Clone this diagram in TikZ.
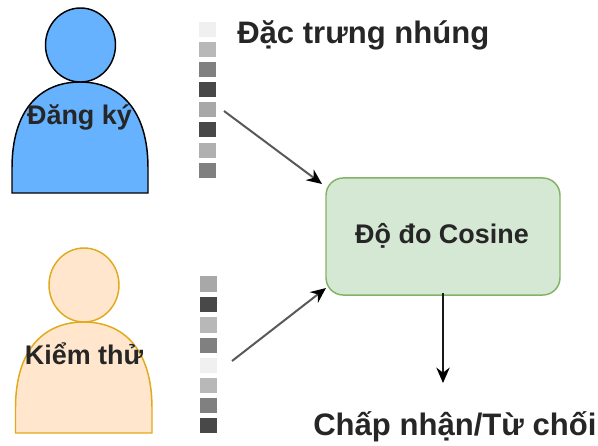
\documentclass[tikz,border=0pt]{standalone}
\usepackage{fontspec}
\setmainfont{Liberation Sans}
\usetikzlibrary{arrows.meta}
\definecolor{blueF}{HTML}{66B2FF}
\definecolor{orangeF}{HTML}{FFE6CC}
\definecolor{orangeD}{HTML}{E1A91C}
\definecolor{greenF}{HTML}{D5E8D4}
\definecolor{greenD}{HTML}{82B366}
\tikzset{
  x=0.75pt,y=-0.75pt,
  blueactor/.style={draw=black,fill=blueF,line width=1.1pt},
  orangeactor/.style={draw=orangeD,fill=orangeF,line width=1.1pt},
  cell/.style={draw=none,inner sep=0pt,minimum width=12.4pt,minimum height=11.3pt},
  lbl/.style={inner sep=0pt,font=\bfseries\fontsize{20.2pt}{22pt}\selectfont,text=black!85},
  biglbl/.style={inner sep=0pt,font=\bfseries\fontsize{23.3pt}{26pt}\selectfont,text=black!85},
  conn/.style={line width=1.5pt,-{Stealth[length=11.5pt,width=10pt,black]}},
}
\newcommand{\actorbody}[5]{% x left, x right, y top, y bottom, style
  \path[#5] (#1,#4) -- (#1,{#4-25})
    .. controls (#1,{#3+28}) and ({#1+28},#3) .. ({(#1+#2)/2},#3)
    .. controls ({#2-28},#3) and (#2,{#3+28}) .. (#2,{#4-25})
    -- (#2,#4) -- cycle;
}
\begin{document}
\begin{tikzpicture}
\useasboundingbox (0,0) rectangle (598,445);
% actors
\actorbody{12}{148}{82}{193}{blueactor}
\path[blueactor] (80.5,45) ellipse [x radius=35,y radius=37];
\actorbody{15.5}{152}{322}{433}{orangeactor}
\path[orangeactor] (84,285) ellipse [x radius=35,y radius=37];
\node[lbl] (enroll) at (79.5,117) {Đăng ký};
\node[lbl] (test) at (84,353.5) {Kiểm thử};
% embedding bars
\foreach \n/\yy/\c in {1/29.5/F0F0F0,2/49.5/B8B8B8,3/69.5/808080,4/89.5/484848,5/109.5/A8A8A8,6/129.5/484848,7/150.5/B0B0B0,8/170.5/808080}{
  \definecolor{cc}{HTML}{\c}
  \node[cell,fill=cc] (a\n) at (207.5,\yy) {};
}
\foreach \n/\yy/\c in {1/284/A8A8A8,2/304.5/484848,3/325/B8B8B8,4/345.5/808080,5/365.5/F0F0F0,6/385.5/B8B8B8,7/405.5/808080,8/425.5/484848}{
  \definecolor{cc}{HTML}{\c}
  \node[cell,fill=cc] (b\n) at (208.5,\yy) {};
}
\node[biglbl,anchor=west] (feat) at (237,35.5) {Đặc trưng nhúng};
% cosine box
\node[draw=greenD,fill=greenF,line width=1.1pt,rounded corners=13pt,minimum width=175.5pt,minimum height=87.8pt,inner sep=0pt] (box) at (443,236.5) {};
\node[lbl] (boxt) at (442,236) {Độ đo Cosine};
\node[biglbl,anchor=west] (res) at (313,427) {Chấp nhận/Từ chối};
% connector ends
\coordinate (s1) at (224,111);
\coordinate (e1) at (322,184);
\coordinate (s2) at (232,361);
\coordinate (e2) at (326,288);
\coordinate (s3) at (443,293);
\coordinate (e3) at (443,383);
\draw[conn,black!65] (s1) -- (e1);
\draw[conn,black!65] (s2) -- (e2);
\draw[conn,black!90] (s3) -- (e3);
\end{tikzpicture}
\end{document}
